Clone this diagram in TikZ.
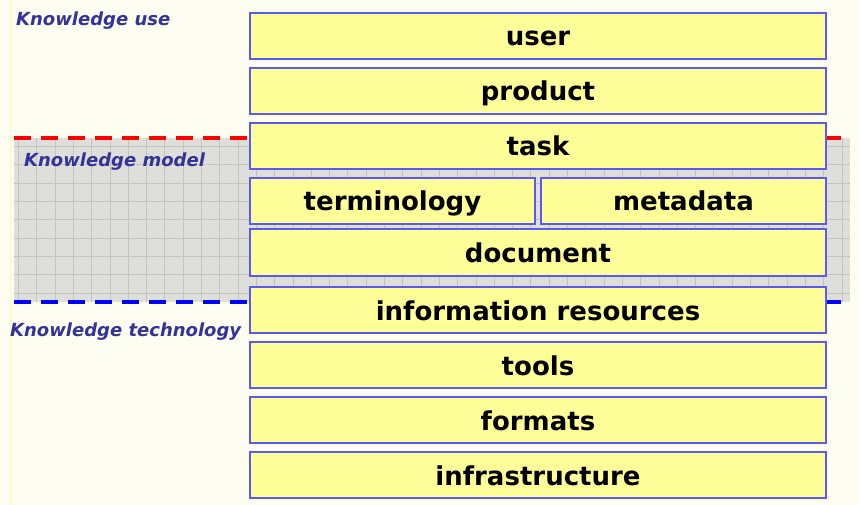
\documentclass[tikz,border=0pt]{standalone}
\usepackage{fontspec}
\setmainfont{DejaVu Sans}
\definecolor{paper}{HTML}{FDFDF2}
\definecolor{boxyellow}{HTML}{FFFF99}
\definecolor{boxblue}{HTML}{5A5AF0}
\definecolor{zoneblue}{HTML}{333399}
\definecolor{bandgray}{HTML}{DEDEDA}
\definecolor{gridgray}{HTML}{C4C4BF}
\definecolor{dashred}{HTML}{FF0000}
\definecolor{dashblue}{HTML}{0000FF}

\begin{document}
\begin{tikzpicture}[x=1pt,y=-1pt,
    layer/.style={draw=boxblue,line width=1.3pt,fill=boxyellow,inner sep=0pt,
        minimum width=576pt,minimum height=46pt,text height=23pt,text depth=3pt,
        font=\bfseries\fontsize{26}{30}\selectfont},
    halflayer/.style={layer,minimum width=285pt},
    zone/.style={anchor=west,text=zoneblue,inner sep=0pt,
        font=\bfseries\itshape\fontsize{18}{21}\selectfont},
    border/.style={line width=4pt,dash pattern=on 17pt off 10pt}]

    \useasboundingbox[fill=paper] (0,0) rectangle (859,505);
    \draw[color=paper!85!black!20!yellow!40,line width=1pt] (10,0) -- (10,505);

    % Knowledge model band
    \fill[bandgray] (14,138) rectangle (850,302);
    \draw[gridgray,line width=0.6pt,step=18.3pt] (14,138) grid (850,302);
    \draw[border,dashred] (14,138) -- (850,138);
    \draw[border,dashblue] (14,302) -- (850,302);

    % Zone labels
    \node[zone] (use) at (16,21) {Knowledge use};
    \node[zone] (model) at (24,162) {Knowledge model};
    \node[zone] (tech) at (10,332) {Knowledge technology};

    % Layers
    \node[layer] (user) at (538,36) {user};
    \node[layer] (product) at (538,91) {product};
    \node[layer] (task) at (538,146) {task};
    \node[halflayer] (termin) at (392.5,201) {terminology};
    \node[halflayer] (meta) at (683.5,201) {metadata};
    \node[layer,minimum height=47pt] (document) at (538,252.5) {document};
    \node[layer] (inforesources) at (538,310) {information resources};
    \node[layer] (tools) at (538,365) {tools};
    \node[layer] (formats) at (538,420) {formats};
    \node[layer] (infra) at (538,475) {infrastructure};
\end{tikzpicture}
\end{document}
